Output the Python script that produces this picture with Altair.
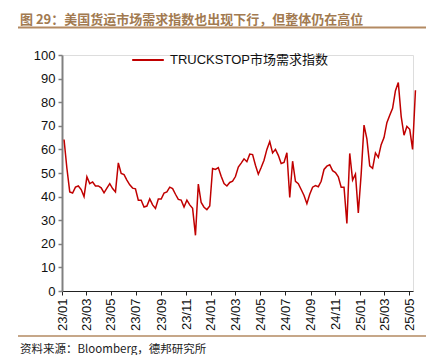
import altair as alt
import pandas as pd

values = [
    64.2, 52.0, 42.0, 41.5, 44.0, 44.5, 43.0, 40.0, 48.4, 45.5,
    46.2, 44.5, 44.5, 43.7, 41.6, 43.6, 45.5, 43.4, 42.0, 54.3,
    49.8, 49.3, 47.0, 45.0, 43.6, 43.3, 38.5, 38.5, 35.6, 36.0,
    39.0, 36.5, 35.0, 39.0, 39.0, 41.5, 42.0, 44.0, 43.4, 41.0,
    38.8, 38.5, 35.6, 38.5, 36.5, 35.0, 23.6, 45.3, 37.5, 35.5,
    34.5, 36.0, 51.9, 51.5, 52.3, 48.6, 45.5, 44.5, 46.0, 46.5,
    48.5, 52.5, 54.2, 56.0, 54.8, 58.0, 57.8, 53.3, 49.5, 52.3,
    55.4, 60.0, 63.3, 58.5, 60.0, 57.5, 54.0, 54.5, 58.6, 39.6,
    55.0, 46.5, 45.5, 43.0, 40.5, 37.0, 41.0, 44.0, 44.7, 44.2,
    46.5, 51.5, 52.9, 53.5, 51.0, 50.2, 48.4, 44.0, 44.0, 28.6,
    58.3, 47.0, 49.5, 33.1, 49.5, 70.3, 64.5, 53.0, 52.0, 58.5,
    56.6, 62.0, 65.0, 71.3, 74.5, 77.4, 84.9, 88.3, 74.0, 66.0,
    69.7, 68.5, 60.0, 85.1,
]
dates = pd.date_range("2023-01-06", periods=len(values), freq="7D")
series_name = "TRUCKSTOP市场需求指数"
title_text = "图 29：美国货运市场需求指数也出现下行，但整体仍在高位"
source_text = "资料来源：Bloomberg，德邦研究所"

df = pd.DataFrame({"date": dates, "value": values, "series": series_name})

line = alt.Chart(df).mark_line(strokeWidth=1.5, clip=False).encode(
    x=alt.X(
        "date:T",
        scale=alt.Scale(domain=["2023-01-01T00:00:00", "2025-05-10T00:00:00"], nice=False),
        axis=alt.Axis(
            title=None,
            format="%y/%m",
            tickCount={"interval": "month", "step": 2},
            labelAngle=-90,
            labelFontSize=13,
            labelFont="Liberation Sans",
            labelColor="#111111",
            labelPadding=3,
            tickSize=4,
            tickColor="#222222",
            domainColor="#222222",
            domainWidth=1,
            grid=False,
            labelOverlap=False,
            labelFlush=False,
        ),
    ),
    y=alt.Y(
        "value:Q",
        scale=alt.Scale(domain=[0, 100], nice=False),
        axis=alt.Axis(
            title=None,
            values=list(range(0, 101, 10)),
            labelFontSize=13,
            labelFont="Liberation Sans",
            labelColor="#111111",
            labelPadding=3,
            tickSize=4,
            tickColor="#808080",
            tickWidth=1.5,
            domainColor="#808080",
            domainWidth=2,
            grid=False,
        ),
    ),
    color=alt.Color(
        "series:N",
        scale=alt.Scale(range=["#C00000"]),
        legend=alt.Legend(
            title=None,
            orient="none",
            legendX=69,
            legendY=-12,
            symbolType="stroke",
            symbolSize=1000,
            symbolStrokeWidth=2,
            labelFontSize=13,
            labelFont="Liberation Sans, Noto Sans CJK SC",
            labelColor="#111111",
            labelOffset=5,
            padding=0,
        ),
    ),
)

title_df = pd.DataFrame({"t": [title_text]})
title = alt.Chart(title_df).mark_text(
    align="left", baseline="alphabetic", fontSize=13, fontWeight="bold",
    font="Noto Sans CJK SC", color="#A27A50",
).encode(x=alt.value(-42), y=alt.value(-31.5), text="t:N")

source_df = pd.DataFrame({"t": [source_text]})
source = alt.Chart(source_df).mark_text(
    align="left", baseline="alphabetic", fontSize=11.5,
    font="Noto Sans CJK SC", color="#222222",
).encode(x=alt.value(-42), y=alt.value(298), text="t:N")

top_rule = alt.Chart(title_df).mark_rule(color="#B38A62", strokeWidth=2).encode(
    x=alt.value(-44), x2=alt.value(368), y=alt.value(-27.5)
)
bottom_rule = alt.Chart(title_df).mark_rule(color="#B38A62", strokeWidth=1.5).encode(
    x=alt.value(-44), x2=alt.value(368), y=alt.value(281)
)

chart = alt.layer(line, top_rule, bottom_rule, title, source).properties(
    width=351,
    height=236,
    autosize=alt.AutoSizeParams(type="none"),
    padding={"left": 54, "top": 47, "right": 13, "bottom": 64},
).configure_view(stroke=None).configure(background="white")

chart.save("out.html", embed_options={"renderer": "svg", "actions": False})
